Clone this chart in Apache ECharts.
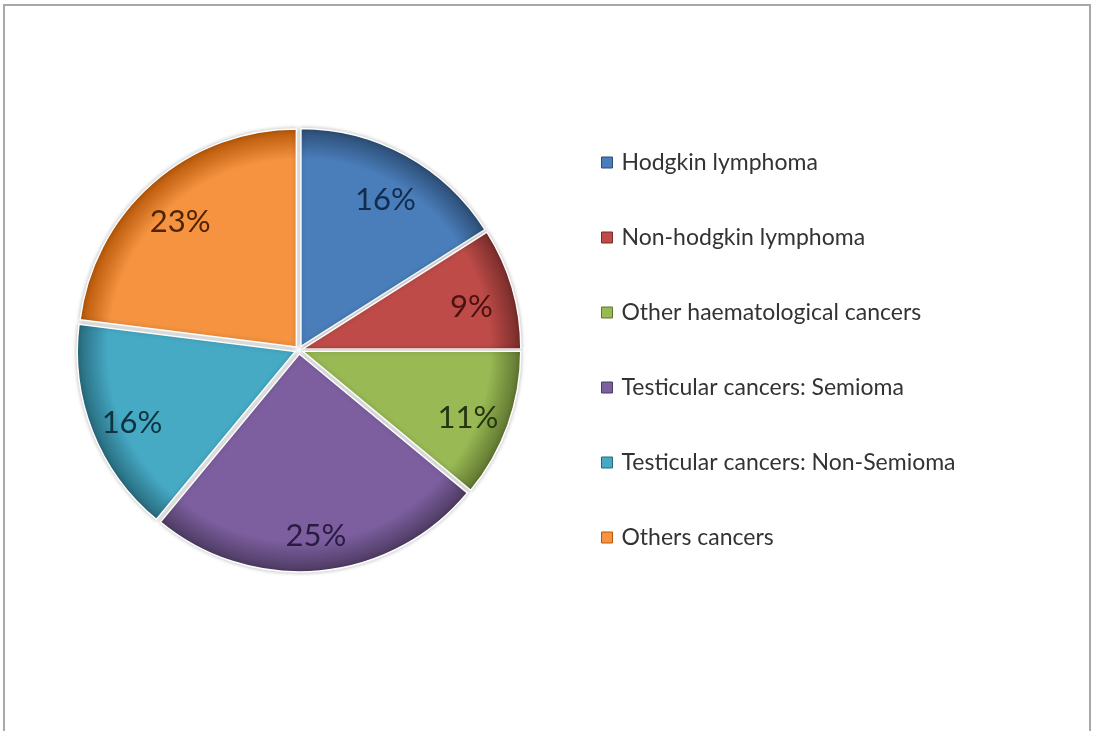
<!DOCTYPE html>
<html>
<head>
<meta charset="utf-8">
<script src="https://cdn.jsdelivr.net/npm/echarts@6/dist/echarts.min.js"></script>
<style>
html,body{margin:0;padding:0;background:#fff;}
#c{width:1095px;height:731px;}
</style>
</head>
<body>
<div id="c"></div>
<script>
const categories = ['Hodgkin lymphoma','Non-hodgkin lymphoma','Other haematological cancers','Testicular cancers: Semioma','Testicular cancers: Non-Semioma','Others cancers'];
const values = [16, 9, 11, 25, 16, 23];
const colors = ['#4A7EBB','#BE4B48','#98B954','#7D5FA0','#46AAC5','#F59340'];
const darkColors = ['#2C4D74','#772C2A','#5F7530','#4D3B62','#276A7C','#B65708'];
const labelColors = ['#132C4E','#4A1210','#263510','#2A1B40','#0F3340','#4F2404'];

const chart = echarts.init(document.getElementById('c'));
const center = [299, 350];
const R = 218;

function grad(i){
  return {
    type:'radial', x:center[0], y:center[1], r:R, global:true,
    colorStops:[{offset:0,color:colors[i]},{offset:0.86,color:colors[i]},{offset:1,color:darkColors[i]}]
  };
}

const mainData = categories.map((n,i)=>({name:n,value:values[i],selected:true,itemStyle:{color:grad(i)}}));
const labelData = categories.map((n,i)=>({name:n,value:values[i],label:{color:labelColors[i]}}));

chart.setOption({
  animation:false,
  color: colors,
  graphic:[{type:'rect',shape:{x:4,y:5,width:1086,height:760},style:{fill:'none',stroke:'#a8a8a8',lineWidth:2},silent:true,z:-1}],
  legend:{
    orient:'vertical', left:596, top:146, itemGap:52,
    icon:'rect', itemWidth:11, itemHeight:11,
    selectedMode:false,
    data: categories.map((n,i)=>({name:n,itemStyle:{color:colors[i],borderColor:darkColors[i],borderWidth:1}})),
    textStyle:{fontFamily:'Lato', fontSize:23, color:'#333333', padding:[0,0,0,4]}
  },
  series:[
    {
      type:'pie', center:center, radius:[0,R], startAngle:90, clockwise:true,
      selectedMode:'multiple', selectedOffset:4,
      label:{show:false}, labelLine:{show:false},
      itemStyle:{borderColor:'#ffffff',borderWidth:1.5,shadowColor:'rgba(0,0,0,0.25)',shadowBlur:4},
      emphasis:{disabled:true},
      data: mainData
    },
    {
      type:'pie', center:center, radius:[R*0.62,R], startAngle:90, clockwise:true,
      silent:true, itemStyle:{color:'rgba(0,0,0,0)'},
      label:{show:true, position:'inside', formatter:'{c}%', fontFamily:'Lato', fontSize:31, offset:[0,7]},
      labelLine:{show:false},
      emphasis:{disabled:true},
      data: labelData, z:5
    }
  ]
});
</script>
</body>
</html>
